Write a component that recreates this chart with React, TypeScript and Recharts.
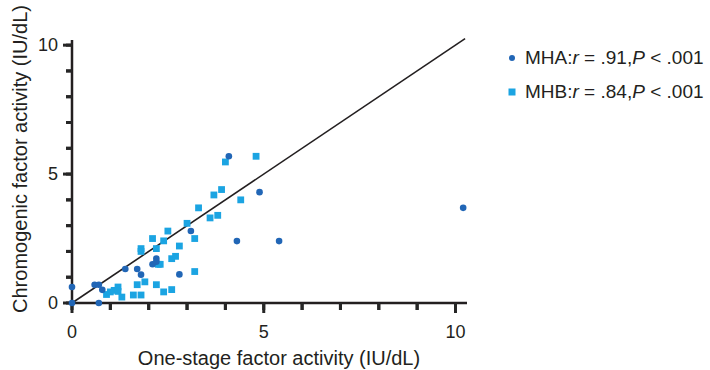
import React from 'react';
import { ScatterChart, Scatter, XAxis, YAxis, ReferenceLine } from 'recharts';

const INK = '#231f20';
const TICK_INK = '#262626';
const MHA_COLOR = '#2166b6';
const MHB_COLOR = '#1ba4e2';
const FONT = '"Liberation Sans", Arial, Helvetica, sans-serif';

// MHA (circles)
const mhaX = [0, 0, 0.59, 0.7, 0.7, 0.79, 1.39, 1.7, 1.8, 2.1, 2.2, 2.2, 2.8, 3.1, 4.09, 4.3, 4.89, 5.4, 10.2];
const mhaY = [0.62, 0, 0.71, 0.71, 0, 0.51, 1.32, 1.32, 1.1, 1.5, 1.6, 1.72, 1.11, 2.79, 5.69, 2.4, 4.3, 2.4, 3.69];

// MHB (squares)
const mhbX = [0.9, 1.0, 1.1, 1.2, 1.2, 1.3, 1.6, 1.8, 1.7, 1.9, 1.8, 1.8, 2.1, 2.2, 2.2, 2.25, 2.3, 2.39, 2.39, 2.5, 2.6, 2.6, 2.7, 2.8, 3.0, 3.2, 3.2, 3.3, 3.6, 3.7, 3.8, 3.9, 4.0, 4.4, 4.8];
const mhbY = [0.33, 0.43, 0.49, 0.62, 0.45, 0.23, 0.31, 0.31, 0.71, 0.82, 2.11, 2.0, 2.5, 2.11, 0.71, 1.5, 1.5, 2.41, 0.43, 2.79, 1.72, 0.52, 1.81, 2.21, 3.09, 2.5, 1.22, 3.69, 3.3, 4.19, 3.4, 4.4, 5.47, 4.0, 5.69];

const xTicks = [0, 1, 2, 3, 4, 5, 6, 7, 8, 9, 10];
const yTicks = [0, 1, 2, 3, 4, 5, 6, 7, 8, 9, 10];
const majorTicks = [0, 5, 10];
const xDomain = [0, 10.3];
const yDomain = [0, 10.2];
const identityEnds = [0, 10.25];
const xTitle = 'One-stage factor activity (IU/dL)';
const yTitle = 'Chromogenic factor activity (IU/dL)';

const legendItems = [
  { name: 'MHA', r: '.91', p: '.001', shape: 'circle', color: MHA_COLOR },
  { name: 'MHB', r: '.84', p: '.001', shape: 'square', color: MHB_COLOR },
];

const mhaData = mhaX.map((x, i) => ({ x, y: mhaY[i] }));
const mhbData = mhbX.map((x, i) => ({ x, y: mhbY[i] }));
// tick marks placed through the chart's own scales
const xTickMarks = xTicks.map((t) => ({ x: t, y: yDomain[0], major: majorTicks.includes(t) }));
const yTickMarks = yTicks.map((t) => ({ x: xDomain[0], y: t, major: majorTicks.includes(t) }));

const XTick = (props: any) => {
  const { x, y, payload } = props;
  if (!majorTicks.includes(payload.value)) return <g />;
  return (
    <text x={x} y={y + 26} textAnchor="middle" fontSize={18} fill={INK} fontFamily={FONT}>
      {payload.value}
    </text>
  );
};

const YTick = (props: any) => {
  const { x, y, payload } = props;
  if (!majorTicks.includes(payload.value)) return <g />;
  return (
    <text x={x - 6} y={y} dy="0.35em" textAnchor="end" fontSize={18} fill={INK} fontFamily={FONT}>
      {payload.value}
    </text>
  );
};

const XTickMark = (props: any) => {
  const len = props.payload && props.payload.major ? 10 : 7;
  return <line x1={props.cx} x2={props.cx} y1={props.cy} y2={props.cy + len} stroke={TICK_INK} strokeWidth={3} />;
};
const YTickMark = (props: any) => {
  const len = props.payload && props.payload.major ? 9 : 6;
  return <line x1={props.cx} x2={props.cx - len} y1={props.cy} y2={props.cy} stroke={TICK_INK} strokeWidth={3} />;
};

const Circle = (props: any) => <circle cx={props.cx} cy={props.cy} r={3.3} fill={MHA_COLOR} />;
const Square = (props: any) => (
  <rect x={props.cx - 3.4} y={props.cy - 3.4} width={6.8} height={6.8} fill={MHB_COLOR} />
);

export default function App() {
  return (
    <div style={{ position: 'absolute', left: 0, top: 0, width: 710, height: 370, background: '#fff' }}>
      <ScatterChart width={710} height={370} margin={{ top: 40, right: 243, bottom: 0, left: 0 }}>
        <XAxis
          type="number"
          dataKey="x"
          domain={xDomain}
          ticks={xTicks}
          height={67}
          tickSize={7}
          tickLine={{ stroke: INK, strokeWidth: 3 }}
          tick={XTick}
          axisLine={{ stroke: INK, strokeWidth: 2.5 }}
        />
        <YAxis
          type="number"
          dataKey="y"
          domain={yDomain}
          ticks={yTicks}
          width={72}
          tickSize={6}
          tickLine={{ stroke: INK, strokeWidth: 3 }}
          tick={YTick}
          axisLine={{ stroke: INK, strokeWidth: 2.5 }}
        />
        <ReferenceLine
          segment={[
            { x: identityEnds[0], y: identityEnds[0] },
            { x: identityEnds[1], y: identityEnds[1] },
          ]}
          stroke={INK}
          strokeWidth={1.6}
          ifOverflow="visible"
        />
        <Scatter name="xticks" data={xTickMarks} shape={<XTickMark />} isAnimationActive={false} legendType="none" />
        <Scatter name="yticks" data={yTickMarks} shape={<YTickMark />} isAnimationActive={false} legendType="none" />
        <Scatter name="MHB" data={mhbData} shape={<Square />} isAnimationActive={false} />
        <Scatter name="MHA" data={mhaData} shape={<Circle />} isAnimationActive={false} />
      </ScatterChart>
      <div
        style={{
          position: 'absolute', left: 0, width: 558, top: 346, textAlign: 'center',
          fontFamily: FONT, fontSize: 20, color: INK, lineHeight: '24px', whiteSpace: 'pre',
        }}
      >
        {xTitle}
      </div>
      <div
        style={{
          position: 'absolute', left: 20 - 160, top: 159 - 12, width: 320, height: 24,
          textAlign: 'center', transform: 'rotate(-90deg)', fontFamily: FONT, fontSize: 20,
          color: INK, lineHeight: '24px', whiteSpace: 'pre',
        }}
      >
        {yTitle}
      </div>
      <div style={{ position: 'absolute', left: 504, top: 46, fontFamily: FONT, fontSize: 19, color: INK }}>
        {legendItems.map((item, i) => (
          <div key={item.name} style={{ display: 'flex', alignItems: 'center', height: 24, marginBottom: i === 0 ? 10 : 0 }}>
            <svg width={16} height={16} style={{ marginRight: 5 }}>
              {item.shape === 'circle' ? (
                <circle cx={8} cy={8} r={3} fill={item.color} />
              ) : (
                <rect x={4.5} y={4.5} width={7} height={7} fill={item.color} />
              )}
            </svg>
            <span style={{ whiteSpace: 'pre' }}>
              {item.name}:<i>r</i> = {item.r},<i>P</i> &lt; {item.p}
            </span>
          </div>
        ))}
      </div>
    </div>
  );
}
